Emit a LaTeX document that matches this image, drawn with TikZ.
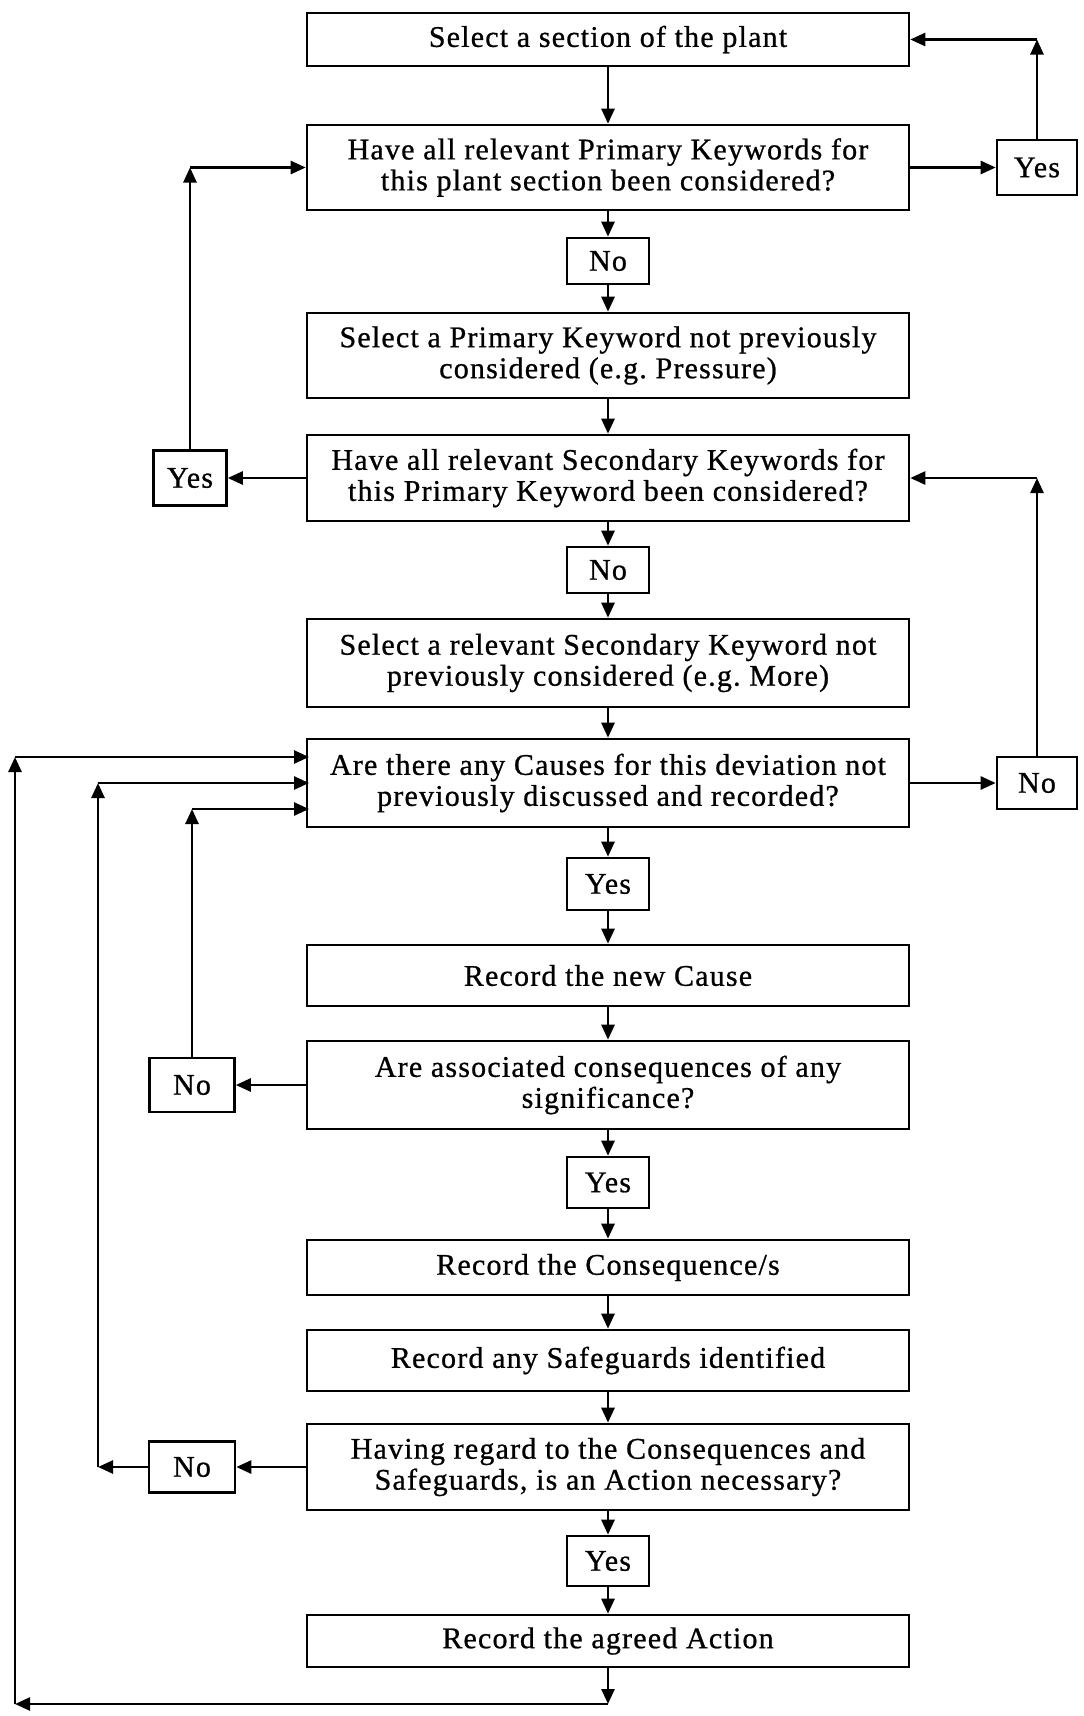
\documentclass[tikz,border=0pt]{standalone}
\usepackage{fontspec}
\setmainfont{Liberation Serif}[LetterSpace=4.0,FakeBold=0.8]
\usetikzlibrary{arrows.meta}
\begin{document}
\frenchspacing
\begin{tikzpicture}[x=1pt,y=-1pt,
  every node/.style={font=\fontsize{30pt}{31pt}\selectfont},
  box/.style={draw,line width=2.6pt,inner sep=0pt,align=center,minimum width=602pt},
  lab/.style={draw,line width=2.6pt,inner sep=0pt,align=center,minimum width=82pt},
  arr/.style={line width=2.6pt,-{Triangle[length=15pt,width=13pt]}}]
\useasboundingbox (0,0) rectangle (1084,1716);
% main column
\node[box,minimum height=53pt] (b1) at (608,39.5) {Select a section of the plant};
\node[box,minimum height=85pt] (b2) at (608,167.5) {Have all relevant Primary Keywords for\\this plant section been considered?};
\node[lab,minimum height=46pt] (n1) at (608,261) {No};
\node[box,minimum height=85pt] (b3) at (608,355.5) {Select a Primary Keyword not previously\\considered (e.g. Pressure)};
\node[box,minimum height=86pt] (b4) at (608,478) {Have all relevant Secondary Keywords for\\this Primary Keyword been considered?};
\node[lab,minimum height=46pt] (n2) at (608,570) {No};
\node[box,minimum height=88pt] (b5) at (608,663) {Select a relevant Secondary Keyword not\\previously considered (e.g. More)};
\node[box,minimum height=88pt] (b6) at (608,783) {Are there any Causes for this deviation not\\previously discussed and recorded?};
\node[lab,minimum height=52pt] (y2) at (608,884) {Yes};
\node[box,minimum height=61pt] (b7) at (608,975.5) {Record the new Cause};
\node[box,minimum height=88pt] (b8) at (608,1085) {Are associated consequences of any\\significance?};
\node[lab,minimum height=51pt] (y3) at (608,1182.5) {Yes};
\node[box,minimum height=55pt] (b9) at (608,1267.5) {Record the Consequence/s};
\node[box,minimum height=61pt] (b10) at (608,1360.5) {Record any Safeguards identified};
\node[box,minimum height=86pt] (b11) at (608,1467) {Having regard to the Consequences and\\Safeguards, is an Action necessary?};
\node[lab,minimum height=50pt] (y4) at (608,1561) {Yes};
\node[box,minimum height=52pt] (b12) at (608,1641) {Record the agreed Action};
% side boxes
\node[lab,minimum width=80pt,minimum height=55pt] (yR) at (1037,167.5) {Yes};
\node[lab,minimum width=73pt,minimum height=55pt] (yL) at (190,478) {Yes};
\node[lab,minimum width=80pt,minimum height=52pt] (nR) at (1037,783) {No};
\node[lab,minimum width=85pt,minimum height=54pt] (nL1) at (192,1085) {No};
\node[lab,minimum width=86pt,minimum height=51pt] (nL2) at (192,1467) {No};
% coordinates
\coordinate (c1) at (1037,39.5);
\coordinate (c2) at (190,167.5);
\coordinate (c3) at (1037,478);
\coordinate (in1) at (309,757);
\coordinate (in2) at (309,783);
\coordinate (in3) at (309,809);
\coordinate (d1) at (608,1704);
\coordinate (d2) at (15,1704);
\coordinate (d3) at (15,757);
\coordinate (e1) at (98,1467);
\coordinate (e2) at (98,783);
\coordinate (f1) at (192,809);
% main flow
\draw[arr] (b1) -- (b2);
\draw[arr] (b2) -- (n1);
\draw[arr] (n1) -- (b3);
\draw[arr] (b3) -- (b4);
\draw[arr] (b4) -- (n2);
\draw[arr] (n2) -- (b5);
\draw[arr] (b5) -- (b6);
\draw[arr] (b6) -- (y2);
\draw[arr] (y2) -- (b7);
\draw[arr] (b7) -- (b8);
\draw[arr] (b8) -- (y3);
\draw[arr] (y3) -- (b9);
\draw[arr] (b9) -- (b10);
\draw[arr] (b10) -- (b11);
\draw[arr] (b11) -- (y4);
\draw[arr] (y4) -- (b12);
% loops
\draw[arr] (b2) -- (yR);
\draw[arr] (yR) -- (c1);
\draw[arr] (c1) -- (b1);
\draw[arr] (b4) -- (yL);
\draw[arr] (yL) -- (c2);
\draw[arr] (c2) -- (b2);
\draw[arr] (b6) -- (nR);
\draw[arr] (nR) -- (c3);
\draw[arr] (c3) -- (b4);
\draw[arr] (b8) -- (nL1);
\draw[arr] (nL1) -- (f1);
\draw[arr] (f1) -- (in3);
\draw[arr] (b11) -- (nL2);
\draw[arr] (nL2) -- (e1);
\draw[arr] (e1) -- (e2);
\draw[arr] (e2) -- (in2);
\draw[arr] (b12) -- (d1);
\draw[arr] (d1) -- (d2);
\draw[arr] (d2) -- (d3);
\draw[arr] (d3) -- (in1);
\end{tikzpicture}
\end{document}
